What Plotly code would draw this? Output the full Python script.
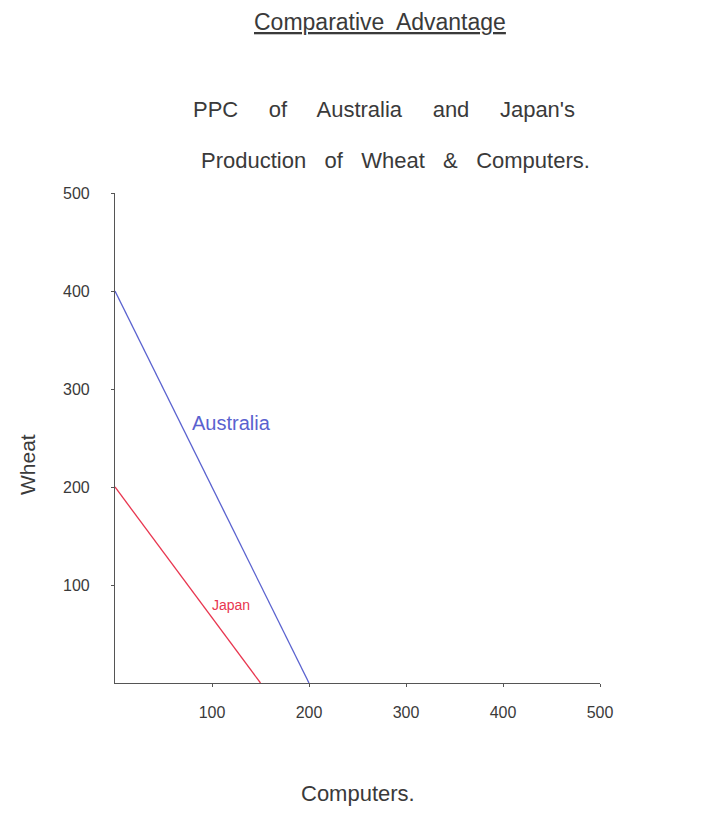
import plotly.graph_objects as go

# Data (PPC endpoints)
countries = ["Australia", "Japan"]
australia_computers = [0, 200]
australia_wheat = [400, 0]
japan_computers = [0, 150]
japan_wheat = [200, 0]
x_ticks = [100, 200, 300, 400, 500]
y_ticks = [100, 200, 300, 400, 500]

FONT = "Liberation Sans"
INK = "#3a3a3a"
BLUE = "#5a62cf"
RED = "#e8364f"

# page offset of the figure (browser body margin)
OFF = 8
PL, PR, PT, PB = 115, 600, 193, 683  # plot area in page pixels

fig = go.Figure()
fig.add_trace(go.Scatter(x=australia_computers, y=australia_wheat, mode="lines",
                         line=dict(color=BLUE, width=1.3), name=countries[0],
                         hoverinfo="skip"))
fig.add_trace(go.Scatter(x=japan_computers, y=japan_wheat, mode="lines",
                         line=dict(color=RED, width=1.3), name=countries[1],
                         hoverinfo="skip"))

W, H = 701 - OFF, 822 - OFF
fig.update_layout(
    width=W, height=H,
    margin=dict(l=PL - OFF, r=W - (PR - OFF), t=PT - OFF, b=H - (PB - OFF), pad=0),
    paper_bgcolor="white", plot_bgcolor="white",
    showlegend=False,
    font=dict(family=FONT, color=INK),
    xaxis=dict(range=[0, 500], tickvals=x_ticks, showgrid=False, zeroline=False,
               showline=True, linecolor="#555", linewidth=1.2,
               ticks="outside", ticklen=3, tickcolor="#555",
               tickfont=dict(size=16, color=INK, family=FONT),
               ticklabelstandoff=12),
    yaxis=dict(range=[0, 500], tickvals=y_ticks, showgrid=False, zeroline=False,
               showline=True, linecolor="#555", linewidth=1.2,
               ticks="outside", ticklen=3, tickcolor="#555",
               tickfont=dict(size=16, color=INK, family=FONT),
               ticklabelstandoff=18),
)

annotations = [
    dict(text="<u>Comparative  Advantage</u>", x=380, y=22,
         font=dict(size=23, color=INK, family=FONT)),
    dict(text="PPC     of     Australia     and     Japan's", x=384, y=110,
         font=dict(size=22, color=INK, family=FONT)),
    dict(text="Production   of   Wheat   &   Computers.", x=395, y=160,
         font=dict(size=22, color=INK, family=FONT)),
    dict(text="Wheat", x=27, y=465, textangle=-90,
         font=dict(size=21, color=INK, family=FONT)),
    dict(text="Computers.", x=358, y=793,
         font=dict(size=22, color=INK, family=FONT)),
]
out = []
for a in annotations:
    px, py = a.pop("x"), a.pop("y")
    out.append(dict(a, x=(px - PL) / (PR - PL), y=(PB - py) / (PB - PT),
                    xref="paper", yref="paper",
                    showarrow=False, xanchor="center", yanchor="middle"))

# Series labels placed in data coordinates
out.append(dict(text="Australia", x=77, y=265, xref="x", yref="y", showarrow=False,
                xanchor="left", yanchor="middle", font=dict(size=20, color=BLUE, family=FONT)))
out.append(dict(text="Japan", x=98, y=80, xref="x", yref="y", showarrow=False,
                xanchor="left", yanchor="middle", font=dict(size=14, color=RED, family=FONT)))
fig.update_layout(annotations=out)

fig.write_html("out.html")
